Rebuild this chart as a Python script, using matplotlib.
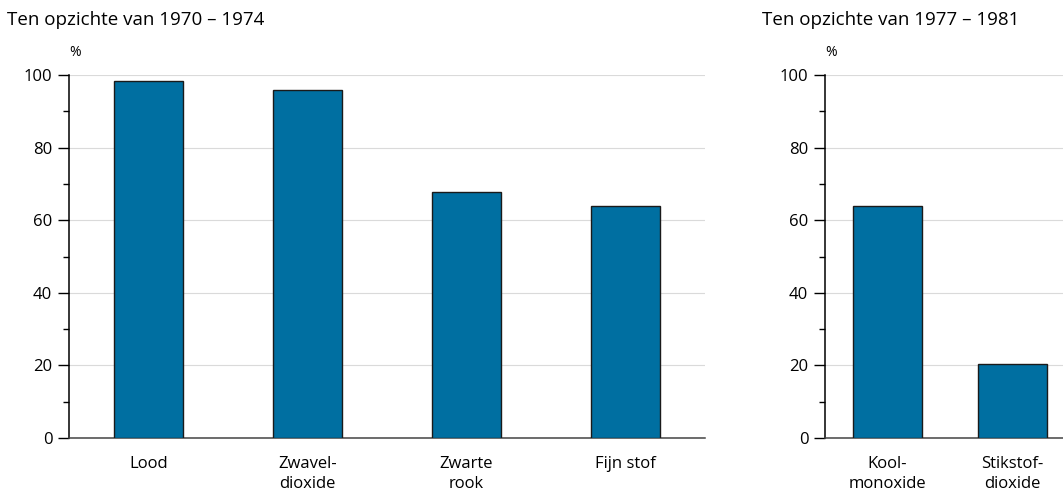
import matplotlib.pyplot as plt
from matplotlib.ticker import MultipleLocator

# Data
left_title = "Ten opzichte van 1970 – 1974"
left_cats = ["Lood", "Zwavel-\ndioxide", "Zwarte\nrook", "Fijn stof"]
left_vals = [98.3, 95.9, 67.8, 63.9]

right_title = "Ten opzichte van 1977 – 1981"
right_cats = ["Kool-\nmonoxide", "Stikstof-\ndioxide"]
right_vals = [63.9, 20.4]

BAR = "#006fa1"
FONT = "Open Sans"

plt.rcParams["font.family"] = [FONT, "DejaVu Sans"]

fig = plt.figure(figsize=(10.63, 4.94), dpi=100, facecolor="white")
W, H = 1063, 494


def panel(x0, x1, cats, vals, xmax, width, title, title_x):
    ax = fig.add_axes([x0 / W, (H - 438) / H, (x1 - x0) / W, (438 - 75) / H])
    ax.bar(range(len(vals)), vals, width=width, color=BAR,
           edgecolor="#1a1a1a", linewidth=1.0, zorder=3)
    ax.set_xlim(-0.5, xmax)
    ax.set_ylim(0, 100)
    ax.yaxis.set_major_locator(MultipleLocator(20))
    ax.yaxis.set_minor_locator(MultipleLocator(10))
    ax.grid(axis="y", which="major", color="#dadada", linewidth=0.8, zorder=0)
    ax.set_axisbelow(True)
    for s in ("top", "right"):
        ax.spines[s].set_visible(False)
    ax.spines["left"].set_color("black")
    ax.spines["left"].set_linewidth(1.1)
    ax.spines["bottom"].set_color("#444444")
    ax.spines["bottom"].set_linewidth(1.1)
    ax.tick_params(axis="y", which="major", length=8, width=1, pad=4,
                   labelsize=12, colors="black")
    ax.tick_params(axis="y", which="minor", length=4.5, width=1)
    ax.set_xticks(range(len(cats)))
    ax.set_xticklabels(cats, fontsize=12, linespacing=1.3)
    ax.tick_params(axis="x", length=0, pad=13)
    ax.text(0.0, 1.04, "%", transform=ax.transAxes, fontsize=10,
            ha="left", va="bottom")
    fig.text(title_x / W, 1 - 20 / H, title, fontsize=13.5,
             ha="left", va="center")
    return ax


panel(69, 705, left_cats, left_vals, 3.5, 0.43, left_title, 7)
panel(825, 1063, right_cats, right_vals, 1.404, 0.55, right_title, 762)

fig.savefig("out.png", dpi=100, facecolor="white")
